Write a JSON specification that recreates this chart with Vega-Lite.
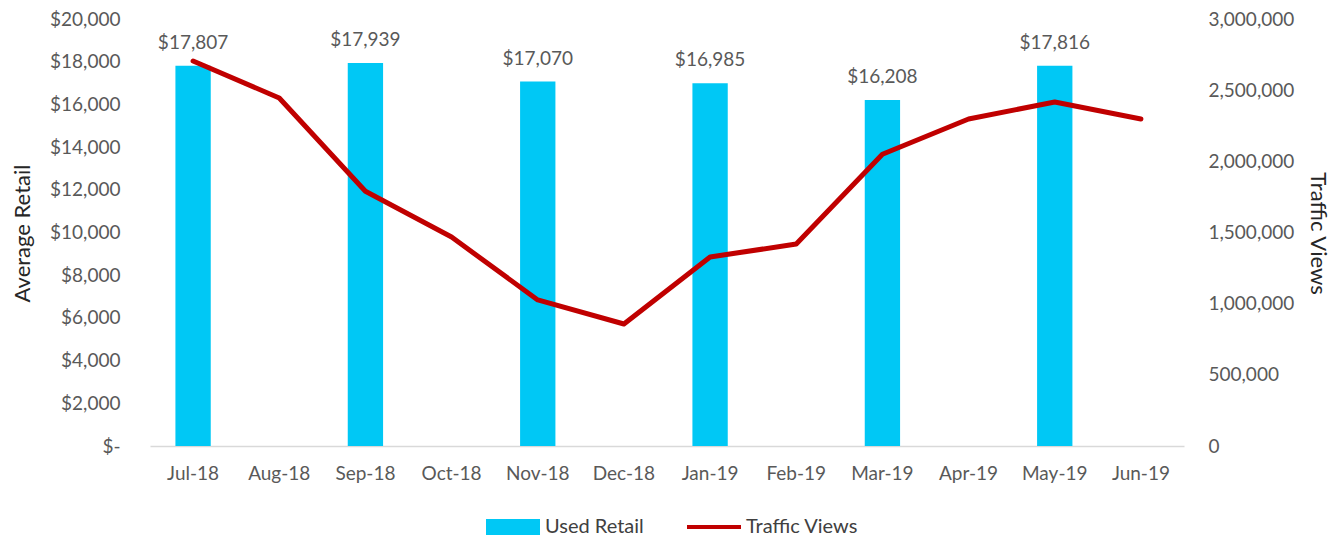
{
  "$schema": "https://vega.github.io/schema/vega-lite/v6.json",
  "width": 1034,
  "height": 427,
  "autosize": {"type": "none"},
  "padding": {"left": 150, "top": 19, "right": 160, "bottom": 95},
  "background": "white",
  "config": {
    "font": "Lato",
    "view": {"stroke": null},
    "axis": {"labelColor": "#595959", "labelFontSize": 19, "titleColor": "#262626", "titleFontSize": 22, "titleFontWeight": "normal", "grid": false, "ticks": false}
  },
  "data": {
    "values": [
      {"month": "Jul-18", "retail": 17807, "views": 2705000},
      {"month": "Aug-18", "retail": null, "views": 2445000},
      {"month": "Sep-18", "retail": 17939, "views": 1790000},
      {"month": "Oct-18", "retail": null, "views": 1468000},
      {"month": "Nov-18", "retail": 17070, "views": 1026000},
      {"month": "Dec-18", "retail": null, "views": 857000},
      {"month": "Jan-19", "retail": 16985, "views": 1328000},
      {"month": "Feb-19", "retail": null, "views": 1419000},
      {"month": "Mar-19", "retail": 16208, "views": 2050000},
      {"month": "Apr-19", "retail": null, "views": 2297000},
      {"month": "May-19", "retail": 17816, "views": 2417000},
      {"month": "Jun-19", "retail": null, "views": 2297000}
    ]
  },
  "encoding": {
    "x": {
      "field": "month", "type": "nominal",
      "sort": ["Jul-18", "Aug-18", "Sep-18", "Oct-18", "Nov-18", "Dec-18", "Jan-19", "Feb-19", "Mar-19", "Apr-19", "May-19", "Jun-19"],
      "scale": {"domain": ["Jul-18", "Aug-18", "Sep-18", "Oct-18", "Nov-18", "Dec-18", "Jan-19", "Feb-19", "Mar-19", "Apr-19", "May-19", "Jun-19"], "paddingInner": 0.59, "paddingOuter": 0.295},
      "axis": {"title": null, "labelAngle": 0, "labelPadding": 18, "domainColor": "#D9D9D9", "domainWidth": 1.5}
    }
  },
  "layer": [
    {
      "layer": [
        {
          "mark": {"type": "bar", "color": "#00C8F5"},
          "encoding": {
            "y": {
              "field": "retail", "type": "quantitative",
              "scale": {"domain": [0, 20000], "nice": false},
              "axis": {
                "title": "Average Retail", "values": [0, 2000, 4000, 6000, 8000, 10000, 12000, 14000, 16000, 18000, 20000],
                "labelExpr": "datum.value == 0 ? '$-' : '$' + format(datum.value, ',')",
                "labelPadding": 30, "domain": false,
                "titleX": -128, "titleY": 214, "titleAngle": -90, "titleAlign": "center", "titleBaseline": "middle"
              }
            },
            "color": {
              "datum": "Used Retail",
              "scale": {"domain": ["Used Retail", "Traffic Views"], "range": ["#00C8F5", "#C00000"]},
              "legend": {
                "title": null, "orient": "none", "direction": "horizontal",
                "legendX": 353, "legendY": 498,
                "symbolSize": 400, "labelOffset": 22, "columnPadding": 43,
                "labelFontSize": 20, "labelColor": "#404040", "labelFont": "Lato", "labelBaseline": "middle",
                "encode": {
                  "symbols": {
                    "update": {
                      "shape": {"signal": "datum.value === 'Used Retail' ? 'M-2.7,-0.8H2.7V0.8H-2.7Z' : 'M-2.7,-0.2H2.7V0.2H-2.7Z'"},
                      "fill": {"signal": "datum.value === 'Used Retail' ? '#00C8F5' : '#C00000'"},
                      "stroke": {"value": "transparent"},
                      "strokeWidth": {"value": 0},
                      "opacity": {"value": 1},
                      "fillOpacity": {"value": 1}
                    }
                  }
                }
              }
            }
          }
        },
        {
          "mark": {"type": "text", "baseline": "alphabetic", "dy": -17, "fontSize": 19, "color": "#595959"},
          "encoding": {
            "y": {"field": "retail", "type": "quantitative"},
            "text": {"field": "retail", "type": "quantitative", "format": "$,"}
          }
        }
      ]
    },
    {
      "mark": {"type": "line", "strokeWidth": 5, "strokeCap": "round", "strokeJoin": "round"},
      "encoding": {
        "y": {
          "field": "views", "type": "quantitative",
          "scale": {"domain": [0, 3000000], "nice": false},
          "axis": {
            "orient": "right", "title": "Traffic Views",
            "values": [0, 500000, 1000000, 1500000, 2000000, 2500000, 3000000],
            "labelExpr": "format(datum.value, ',d')", "labelPadding": 24, "domain": false,
            "titleX": 133, "titleY": 214, "titleAngle": 90, "titleAlign": "center", "titleBaseline": "middle"
          }
        },
        "color": {"datum": "Traffic Views"}
      }
    }
  ],
  "resolve": {"scale": {"y": "independent"}}
}
